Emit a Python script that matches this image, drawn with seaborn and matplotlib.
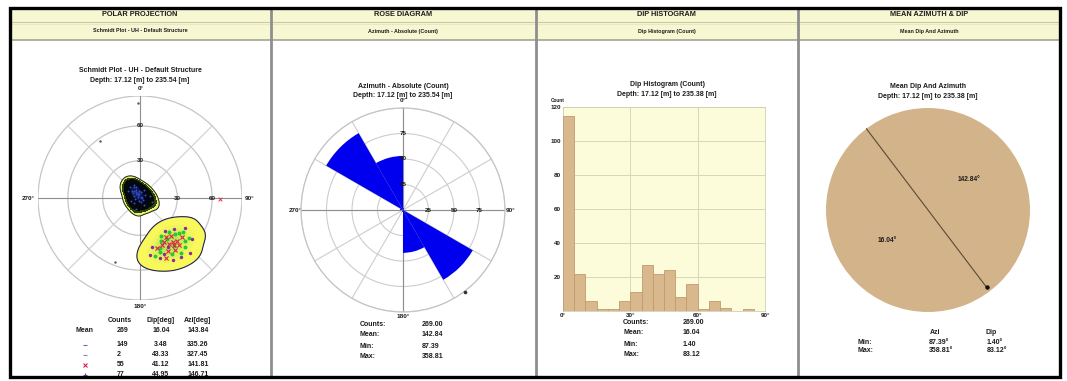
import numpy as np
import matplotlib
matplotlib.use("Agg")
import matplotlib.pyplot as plt
from matplotlib.patches import Rectangle, Circle
import seaborn as sns

sns.set_theme(style="white")
plt.rcParams["font.family"] = ["Liberation Sans", "DejaVu Sans"]
plt.rcParams["font.weight"] = "bold"

W, H = 1067, 381

# ---------------- panel headers ----------------
header_titles = ["POLAR PROJECTION", "ROSE DIAGRAM", "DIP HISTOGRAM", "MEAN AZIMUTH & DIP"]
header_subtitles = ["Schmidt Plot - UH - Default Structure", "Azimuth - Absolute (Count)",
                    "Dip Histogram (Count)", "Mean Dip And Azimuth"]
chart_titles = ["Schmidt Plot - UH - Default Structure", "Azimuth - Absolute (Count)",
                "Dip Histogram (Count)", "Mean Dip And Azimuth"]
depth_labels = ["Depth: 17.12 [m] to 235.54 [m]", "Depth: 17.12 [m] to 235.54 [m]",
                "Depth: 17.12 [m] to 235.38 [m]", "Depth: 17.12 [m] to 235.38 [m]"]

# ---------------- Schmidt net poles (dip, azimuth; degrees) ----------------
flat_dip = [1.5, 2.0, 2.5, 3.0, 3.0, 3.5, 4.0, 4.0, 4.5, 5.0, 5.0, 5.5, 6.0, 6.0, 6.5,
            7.0, 7.5, 8.0, 8.5, 9.0, 10.0, 11.0, 3.5, 2.0, 4.5, 6.0, 9.0, 10.0, 8.0, 7.0,
            12.0, 11.5]
flat_az = [40, 300, 200, 330, 120, 350, 315, 260, 340, 10, 290, 325, 350, 230, 305,
           335, 320, 80, 310, 340, 330, 300, 170, 100, 60, 150, 200, 110, 250, 30,
           318, 335]

se_red_dip = [44, 40, 49, 46, 52, 42, 38, 47, 54, 45, 50, 43, 48, 41]
se_red_az = [148, 141, 152, 139, 146, 155, 146, 133, 157, 143, 140, 161, 144, 151]
se_green_dip = [41, 48, 36, 53, 45, 39, 57, 47, 43, 51, 35, 55, 49, 40, 44, 52]
se_green_az = [136, 145, 140, 150, 128, 154, 143, 160, 132, 134, 151, 137, 165, 147, 158, 129]
se_purple_dip = [46, 58, 37, 52, 44, 60, 41, 55, 33, 50, 62, 47]
se_purple_az = [150, 152, 132, 162, 124, 145, 166, 128, 143, 157, 138, 170]

stray_dip = [82, 58, 57]
stray_az = [359, 325, 201]
stray_red_dip = [67]
stray_red_az = [91]

ring_dips = [30, 60, 90]

table_rows = ["Mean", "", "", "", ""]
table_counts = [269, 149, 2, 55, 77]
table_dip = [16.04, 3.48, 43.33, 41.12, 44.95]
table_azi = [143.84, 335.26, 327.45, 141.81, 146.71]

# ---------------- rose diagram (30 deg azimuth bins) ----------------
rose_bin_start = [0, 30, 60, 90, 120, 150, 180, 210, 240, 270, 300, 330]
rose_counts = [2, 0, 1, 0, 79, 42, 2, 0, 0, 3, 87, 53]
rose_rings = [25, 50, 75]
azi_mean, azi_min, azi_max = 142.84, 87.39, 358.81

# ---------------- dip histogram (5 deg bins) ----------------
dip_edges = list(range(0, 95, 5))
dip_counts = [115, 22, 6, 1, 1, 6, 11, 27, 22, 24, 8, 16, 1, 6, 2, 0, 1, 0]
dip_mean, dip_min, dip_max = 16.04, 1.40, 83.12

TXT = "#1c1c1c"


def px_axes(fig, x0, y0, w, h, **kw):
    return fig.add_axes([x0 / W, 1 - (y0 + h) / H, w / W, h / H], **kw)


def schmidt_xy(dip, az):
    d = np.radians(np.asarray(dip, float))
    a = np.radians(np.asarray(az, float))
    r = np.sqrt(2) * np.sin(d / 2)
    return r * np.sin(a), r * np.cos(a)


fig = plt.figure(figsize=(W / 100, H / 100), dpi=100)
fig.patch.set_facecolor("white")

bg = fig.add_axes([0, 0, 1, 1])
bg.set_xlim(0, W)
bg.set_ylim(H, 0)
bg.axis("off")
bg.set_zorder(0)


def T(x, y, s, size=5.0, ha="center", **kw):
    bg.text(x, y, s, fontsize=size, ha=ha, va="center", color=TXT,
            fontweight="bold", **kw)


# ---- panel frames and header bands ----
panels = [(10, 270), (271, 535), (536, 797), (798, 1060)]
for (x0, x1), t, st in zip(panels, header_titles, header_subtitles):
    bg.add_patch(Rectangle((x0, 8), x1 - x0, 32, facecolor="#f7f7d2", edgecolor="none", zorder=1))
    bg.plot([x0, x1], [22, 22], color="#c9c9a8", lw=0.8, zorder=2)
    bg.plot([x0, x1], [23.5, 23.5], color="#e4e4c8", lw=0.6, zorder=2)
    bg.plot([x0, x1], [40, 40], color="#a4a494", lw=1.2, zorder=2)
    cx = (x0 + x1) / 2
    T(cx, 14.5, t, size=5.3)
    T(cx, 31, st, size=3.9)

for xs in [270.5, 535.5, 797.5]:
    bg.plot([xs, xs], [8, 376], color="#8e8e8e", lw=2.0, zorder=3)

# ================= panel 1 : Schmidt net =================
cx1, cy1, R1 = 140, 198, 102
ax1 = px_axes(fig, cx1 - R1, cy1 - R1, 2 * R1, 2 * R1)
ax1.set_facecolor("none")
ax1.set_xlim(-1, 1)
ax1.set_ylim(-1, 1)
ax1.axis("off")
ax1.set_zorder(1)

ring_r = np.sqrt(2) * np.sin(np.radians(ring_dips) / 2)
for r in ring_r:
    ax1.add_patch(Circle((0, 0), r, fill=False, ec="#c6c6c6", lw=0.9, zorder=1))
for a in range(0, 360, 45):
    ar = np.radians(a)
    col = "#8e8e8e" if a % 90 == 0 else "#cfcfcf"
    ax1.plot([0, np.sin(ar)], [0, np.cos(ar)], color=col, lw=0.8, zorder=1)
for d, r in zip(ring_dips[:2], ring_r[:2]):
    ax1.text(0, r, f"{d}", fontsize=4.5, ha="center", va="center", color=TXT,
             fontweight="bold", zorder=6)
    ax1.text(r, 0, f"{d}", fontsize=4.5, ha="center", va="center", color=TXT,
             fontweight="bold", zorder=6)

fx, fy = schmidt_xy(flat_dip, flat_az)
flat_colors = ["#eef06a", "#2a4410", "#060a06", "#03051a", "#0a1450"]
sns.kdeplot(x=fx, y=fy, ax=ax1, fill=True, levels=[0.02, 0.06, 0.12, 0.35, 0.7, 1.0],
            bw_adjust=1.45, color=flat_colors[0], colors=flat_colors, zorder=2)
sns.kdeplot(x=fx, y=fy, ax=ax1, fill=False, levels=[0.02], bw_adjust=1.45,
            color="#1a2030", linewidths=0.7, zorder=3)

sxr, syr = schmidt_xy(se_red_dip, se_red_az)
sxg, syg = schmidt_xy(se_green_dip, se_green_az)
sxp, syp = schmidt_xy(se_purple_dip, se_purple_az)
sx = np.concatenate([sxr, sxg, sxp])
sy = np.concatenate([syr, syg, syp])
se_colors = ["#f8f85a", "#f0f45e", "#e2f05c", "#cfea58", "#bce454"]
sns.kdeplot(x=sx, y=sy, ax=ax1, fill=True, levels=6, thresh=0.02, bw_adjust=1.35,
            color=se_colors[0], colors=se_colors, zorder=2)
sns.kdeplot(x=sx, y=sy, ax=ax1, fill=False, levels=[0.02], bw_adjust=1.35,
            color="#202060", linewidths=0.8, zorder=3)

sns.scatterplot(x=fx, y=fy, ax=ax1, color="#3552b8", s=2, linewidth=0, zorder=4, legend=False)
sns.scatterplot(x=sxg, y=syg, ax=ax1, color="#22cc33", s=8, linewidth=0, zorder=4, legend=False)
sns.scatterplot(x=sxp, y=syp, ax=ax1, color="#8a2a9a", s=6, linewidth=0, zorder=4, legend=False)
sns.scatterplot(x=sxr, y=syr, ax=ax1, color="#e0204a", marker="x", s=9, linewidth=0.8,
                zorder=5, legend=False)
tx, ty = schmidt_xy(stray_dip, stray_az)
sns.scatterplot(x=tx, y=ty, ax=ax1, color="#555555", s=3, linewidth=0, zorder=4, legend=False)
rx, ry = schmidt_xy(stray_red_dip, stray_red_az)
sns.scatterplot(x=rx, y=ry, ax=ax1, color="#e03050", marker="x", s=7, linewidth=0.7,
                zorder=5, legend=False)
ax1.set_xlim(-1, 1)
ax1.set_ylim(-1, 1)

T(140, 71, chart_titles[0], size=5.0)
T(140, 80.5, depth_labels[0], size=5.0)
T(141, 88, "0°", size=4.6)
T(250, 198, "90°", size=4.6)
T(28, 198, "270°", size=4.6)
T(140, 307, "180°", size=4.6)

T(120, 321, "Counts", size=5.0)
T(161, 321, "Dip[deg]", size=5.0)
T(198, 321, "Azi[deg]", size=5.0)
row_y = [331, 345, 355, 365, 375]
row_markers = [None, ("_", "#5870b0"), ("_", "#8090a0"), ("x", "#e0204a"), ("+", "#9a2aa8")]
for yv, lab, c, dv, av, mk in zip(row_y, table_rows, table_counts, table_dip, table_azi, row_markers):
    if lab:
        T(85, yv, lab, size=5.0)
    if mk is not None:
        bg.plot([85], [yv], marker=mk[0], color=mk[1], ms=2.5, mew=0.8, zorder=4)
    T(117, yv, f"{c}", size=5.0, ha="left")
    T(161, yv, f"{dv:.2f}", size=5.0)
    T(198, yv, f"{av:.2f}", size=5.0)

# ================= panel 2 : rose diagram =================
cx2, cy2, R2 = 403, 210, 102
ax2 = px_axes(fig, cx2 - R2, cy2 - R2, 2 * R2, 2 * R2, projection="polar")
ax2.set_zorder(1)
ax2.set_facecolor("none")
ax2.set_theta_zero_location("N")
ax2.set_theta_direction(-1)
ax2.set_ylim(0, 100)
ax2.set_yticks(rose_rings + [100])
ax2.set_yticklabels([])
ax2.set_xticks(np.radians(np.arange(0, 360, 30)))
ax2.set_xticklabels([])
ax2.grid(True, color="#cdcdcd", lw=0.8)
ax2.spines["polar"].set_color("#c4c4c4")
ax2.spines["polar"].set_linewidth(0.9)
for th in [0, np.pi / 2, np.pi, 3 * np.pi / 2]:
    ax2.plot([th, th], [0, 100], color="#8e8e8e", lw=0.8, zorder=2)
ax2.bar(np.radians(rose_bin_start), rose_counts, width=np.radians(30), align="edge",
        color="#0000ee", edgecolor="none", zorder=3)
for rv in rose_rings:
    ax2.text(0, rv, f"{rv}", fontsize=4.5, ha="center", va="center", color=TXT,
             fontweight="bold", zorder=6)
    ax2.text(np.pi / 2, rv, f"{rv}", fontsize=4.5, ha="center", va="center", color=TXT,
             fontweight="bold", zorder=6)
ax2.plot([np.radians(azi_mean)], [101], marker="o", ms=1.6, color="#333333",
         clip_on=False, zorder=6)

T(403, 86, chart_titles[1], size=5.0)
T(403, 95.5, depth_labels[1], size=5.0)
T(403, 101, "0°", size=4.6)
T(511, 210, "90°", size=4.6)
T(295, 210, "270°", size=4.6)
T(403, 317, "180°", size=4.6)
rose_stat_labels = ["Counts:", "Mean:", "Min:", "Max:"]
rose_stat_values = [float(sum(rose_counts)), azi_mean, azi_min, azi_max]
for yv, lab, val in zip([325, 335, 346, 357], rose_stat_labels, rose_stat_values):
    T(360, yv, lab, size=5.0, ha="left")
    T(422, yv, f"{val:.2f}", size=5.0, ha="left")

# ================= panel 3 : dip histogram =================
ax3 = px_axes(fig, 563, 107, 202, 204)
ax3.set_zorder(1)
centers = [e + 2.5 for e in dip_edges[:-1]]
sns.histplot(x=centers, weights=dip_counts, bins=dip_edges, ax=ax3, color="#d8b88c",
             edgecolor="#bf9c6e", linewidth=0.6, alpha=1.0, zorder=3)
ax3.set_facecolor("#fdfcda")
ax3.set_xlim(0, 90)
ax3.set_ylim(0, 120)
ax3.set_xticks([0, 30, 60, 90])
ax3.set_xticklabels(["0°", "30°", "60°", "90°"])
ax3.set_yticks([20, 40, 60, 80, 100, 120])
ax3.set_xlabel("")
ax3.set_ylabel("")
ax3.grid(True, color="#d6d6b8", lw=0.7)
ax3.set_axisbelow(True)
ax3.tick_params(labelsize=4.5, length=0, pad=1.5, colors=TXT)
for lab in ax3.get_xticklabels() + ax3.get_yticklabels():
    lab.set_fontweight("bold")
for sp in ax3.spines.values():
    sp.set_color("#cfcfb5")
    sp.set_linewidth(0.6)

T(667, 85, chart_titles[2], size=5.0)
T(667, 95, depth_labels[2], size=5.0)
T(558, 101, "Count", size=3.4)
dip_stat_values = [float(sum(dip_counts)), dip_mean, dip_min, dip_max]
for yv, lab, val in zip([323, 333, 344, 354], rose_stat_labels, dip_stat_values):
    T(623, yv, lab, size=5.0, ha="left")
    T(683, yv, f"{val:.2f}", size=5.0, ha="left")

# ================= panel 4 : mean azimuth & dip =================
cx4, cy4, R4 = 928, 210, 102
ax4 = px_axes(fig, cx4 - R4, cy4 - R4, 2 * R4, 2 * R4)
ax4.set_zorder(1)
ax4.set_facecolor("none")
ax4.pie([1], colors=["#d3b38a"], radius=1, startangle=90, wedgeprops=dict(linewidth=0))
ax4.set_xlim(-1, 1)
ax4.set_ylim(-1, 1)
ar = np.radians(azi_mean)
ux, uy = np.sin(ar), np.cos(ar)
ax4.plot([-ux, ux * 0.97], [-uy, uy * 0.97], color="#5a4a36", lw=0.8, zorder=4)
ax4.plot([ux * 0.95], [uy * 0.95], marker="o", ms=2.2, color="#111111", zorder=5)
# unit vector normal to the azimuth line, pointing to the upper-right half
nx, ny = -uy, ux
ax4.text(0.5 * nx, 0.5 * ny, f"{azi_mean:.2f}°", fontsize=4.8, ha="center",
         va="center", color=TXT, fontweight="bold", zorder=6)
ax4.text(-0.5 * nx, -0.5 * ny, f"{dip_mean:.2f}°", fontsize=4.8, ha="center",
         va="center", color=TXT, fontweight="bold", zorder=6)

T(928, 86.5, chart_titles[3], size=5.0)
T(928, 97, depth_labels[3], size=5.0)
T(930, 333, "Azi", size=5.0, ha="left")
T(985, 333, "Dip", size=5.0, ha="left")
T(857, 342, "Min:", size=5.0, ha="left")
T(857, 351, "Max:", size=5.0, ha="left")
T(929, 342, f"{azi_min:.2f}°", size=5.0, ha="left")
T(929, 351, f"{azi_max:.2f}°", size=5.0, ha="left")
T(987, 342, f"{dip_min:.2f}°", size=5.0, ha="left")
T(987, 351, f"{dip_max:.2f}°", size=5.0, ha="left")

# ---- outer frame ----
bg.add_patch(Rectangle((0, 376.5), W, H - 376.5, facecolor="white", edgecolor="none", zorder=10))
bg.add_patch(Rectangle((9.5, 7.5), 1050.5, 369.5, fill=False, edgecolor="black", lw=2.4, zorder=11))

fig.savefig("out.png", dpi=100)
